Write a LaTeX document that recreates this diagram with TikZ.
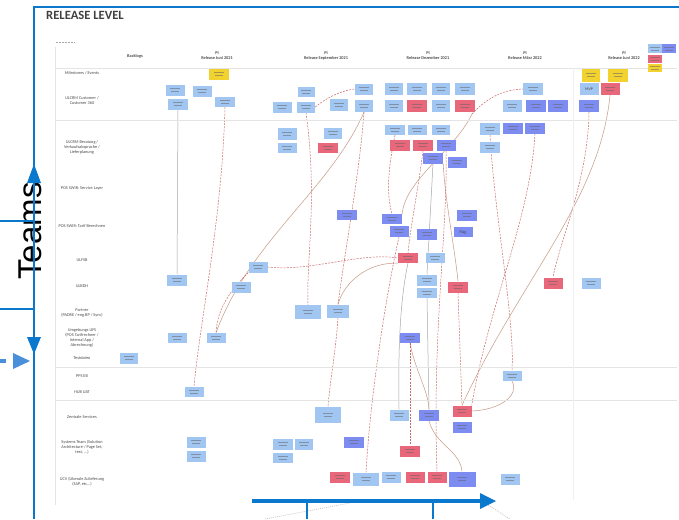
\documentclass[tikz,border=0pt]{standalone}
\usepackage{fontspec}
\setmainfont{Carlito}
\newfontfamily\arialf{Liberation Sans}
\usetikzlibrary{calc}
\definecolor{frameblue}{HTML}{0A78CC}
\definecolor{dashblue}{HTML}{4A8FD9}
\definecolor{nlb}{HTML}{A2C6F2}
\definecolor{nmb}{HTML}{7D8CF0}
\definecolor{nred}{HTML}{E8677A}
\definecolor{nyel}{HTML}{F2D22E}
\definecolor{depc}{HTML}{C0504D}
\definecolor{depb}{HTML}{C9A08C}
\definecolor{gridc}{HTML}{E4E4E4}
\pgfdeclarelayer{bg}
\pgfsetlayers{bg,main}
\tikzset{
  sz/.style 2 args={minimum width=#1pt,minimum height=#2pt},
  plain/.style={inner sep=0pt,draw=none,font=\fontsize{4}{4.5}\selectfont,text=black!75},
  note/.style={plain,sz={19}{11},
    path picture={\draw[black!60,line width=0.5pt,opacity=.55]
      ([xshift=-5pt,yshift=1.5pt]path picture bounding box.center) -- ++(10pt,0)
      ([xshift=-4pt,yshift=-1.5pt]path picture bounding box.center) -- ++(8pt,0);}},
  lb/.style={note,fill=nlb},
  mb/.style={note,fill=nmb},
  rd/.style={note,fill=nred},
  yl/.style={note,fill=nyel},
  lbl/.style={inner sep=0pt,align=center,font=\fontsize{4.3}{5}\selectfont,text=black!70},
  hdr/.style={inner sep=0pt,align=center,font=\bfseries\fontsize{4.3}{5.2}\selectfont,text=black!70},
  dd/.style={draw=depc,line width=0.5pt,dash pattern=on 2pt off 1.2pt,opacity=.85},
  ds/.style={draw=depb,line width=0.55pt},
  gs/.style={draw=black!35,line width=0.5pt},
  gridline/.style={draw=gridc,line width=0.8pt}
}
\begin{document}
\begin{tikzpicture}[x=1pt,y=-1pt]
\useasboundingbox (0,0) rectangle (679,519);

% board grid
\draw[gridline] (55,47) -- (55,505);
\draw[gridline] (55,68) -- (677,68);
\draw[gridline] (55,120) -- (677,120);
\draw[gridline] (55,367) -- (677,367);
\draw[gridline] (55,400) -- (677,400);
\draw[draw=gridc!60,line width=0.5pt] (573,68) -- (573,500);
\draw[black!35,line width=0.7pt,dash pattern=on 1.5pt off 1.5pt] (56,42) -- (75,42);

% title
\node[anchor=west,inner sep=0pt,font=\bfseries\fontsize{12.6}{13}\selectfont,text=black!75] (title) at (46,15) {RELEASE LEVEL};

% headers
\node[hdr] (hb) at (135,56) {Backlogs};
\node[hdr] (h1) at (217,56) {PI\\Release Juni 2021};
\node[hdr] (h2) at (326,56) {PI\\Release September 2021};
\node[hdr] (h3) at (428,56) {PI\\Release Dezember 2021};
\node[hdr] (h4) at (525,56) {PI\\Release März 2022};
\node[hdr] (h5) at (624,56) {PI\\Release Juni 2022};

% legend
\node[lb,sz={14}{9}] (lg1) at (655,49) {};
\node[mb,sz={14}{9}] (lg2) at (669,49) {};
\node[rd,sz={14}{8}] (lg3) at (655,59) {};
\node[yl,sz={14}{8}] (lg4) at (655,68) {};

% row labels
\node[lbl] (r1) at (82,73) {Milestones / Events};
\node[lbl] (r2) at (82,101) {ULCRM Customer /\\Customer 360};
\node[lbl] (r3) at (82,147) {ULCRM Beratung /\\Verkaufsabsprache /\\Lieferplanung};
\node[lbl] (r4) at (82,188) {POS SWIR: Service Layer};
\node[lbl] (r5) at (82,226) {POS SWIR: Tarif Berechnen};
\node[lbl] (r6) at (82,260) {ULFSB};
\node[lbl] (r7) at (82,286) {ULBDH};
\node[lbl] (r8) at (82,313) {Partner\\(PADRE / eng.BP / Sync)};
\node[lbl] (r9) at (82,338) {Umgebungs UFS\\(POS Tarifrechner /\\Internal App /\\Abrechnung)};
\node[lbl] (r10) at (82,358) {Testdaten};
\node[lbl] (r11) at (82,376) {PPS EB};
\node[lbl] (r12) at (82,392) {HUB UAT};
\node[lbl] (r13) at (82,417) {Zentrale Services};
\node[lbl] (r14) at (82,447) {Systems Team (Solution\\Architecture / Page Set,\\test, ...)};
\node[lbl] (r15) at (82,482) {UCV (Liberale Zulieferung\\(SAP, etc...)};

% milestones
\node[yl,sz={20}{11}] (m1) at (219,74) {};
\node[yl,sz={18}{13}] (m2) at (591,75) {};
\node[yl,sz={20}{13}] (m3) at (618,75) {};

% ULCRM customer
\node[lb] (c1) at (175,90) {};
\node[lb] (c2) at (202,91) {};
\node[lb,sz={20}{11}] (c3) at (178,104) {};
\node[lb,sz={20}{10}] (c4) at (225,102) {};
\node[lb] (c5) at (282,107) {};
\node[lb,sz={18}{11}] (c6) at (306,107) {};
\node[lb,sz={17}{10}] (c7) at (306,92) {};
\node[lb,sz={18}{12}] (c8) at (339,105) {};
\node[lb,sz={18}{11}] (c9) at (364,89) {};
\node[lb,sz={18}{12}] (c10) at (364,106) {};
\node[lb,sz={18}{12}] (c11) at (394,89) {};
\node[lb,sz={18}{12}] (c12) at (394,106) {};
\node[lb,sz={20}{12}] (c13) at (417,89) {};
\node[rd,sz={20}{12}] (c14) at (417,106) {};
\node[lb,sz={18}{12}] (c15) at (441,89) {};
\node[lb,sz={18}{12}] (c16) at (441,106) {};
\node[lb,sz={20}{12}] (c17) at (465,89) {};
\node[rd,sz={20}{12}] (c18) at (465,106) {};
\node[lb,sz={19}{12}] (c19) at (512,106) {};
\node[lb,sz={20}{12}] (c20) at (533,89) {};
\node[mb,sz={20}{12}] (c21) at (536,106) {};
\node[mb,sz={20}{12}] (c22) at (558,106) {};
\node[plain,fill=nlb,sz={19}{12}] (c23) at (589,89) {MVP};
\node[rd,sz={19}{12}] (c24) at (610,89) {};
\node[mb,sz={20}{12}] (c25) at (589,106) {};

% ULCRM Beratung
\node[lb,sz={19}{12}] (b1) at (287,134) {};
\node[lb,sz={19}{10}] (b2) at (287,148) {};
\node[lb,sz={18}{11}] (b3) at (333,133) {};
\node[rd,sz={20}{10}] (b4) at (328,148) {};
\node[lb,sz={20}{10}] (b5) at (395,130) {};
\node[lb,sz={19}{10}] (b6) at (417,130) {};
\node[lb,sz={18}{10}] (b7) at (441,130) {};
\node[lb,sz={20}{12}] (b8) at (490,129) {};
\node[mb,sz={20}{11}] (b9) at (513,128) {};
\node[mb,sz={20}{11}] (b10) at (535,128) {};
\node[rd,sz={20}{11}] (b11) at (400,145) {};
\node[rd,sz={20}{11}] (b12) at (423,145) {};
\node[mb,sz={19}{11}] (b13) at (446,145) {};
\node[mb,sz={20}{11}] (b14) at (433,158) {};
\node[mb,sz={19}{11}] (b15) at (457,162) {};
\node[lb,sz={20}{11}] (b16) at (490,147) {};

% POS SWIR Tarif
\node[mb,sz={20}{10}] (t1) at (347,215) {};
\node[mb,sz={20}{10}] (t2) at (392,219) {};
\node[mb,sz={19}{11}] (t3) at (399,231) {};
\node[mb,sz={20}{11}] (t4) at (427,234) {};
\node[mb,sz={20}{11}] (t5) at (467,215) {};
\node[plain,fill=nmb,sz={19}{10}] (t6) at (463,232) {Flag};

% ULFSB
\node[lb] (f1) at (258,267) {};
\node[rd,sz={20}{10}] (f2) at (408,258) {};
\node[lb,sz={19}{10}] (f3) at (435,258) {};

% ULBDH
\node[lb,sz={20}{11}] (hh1) at (177,280) {};
\node[lb] (hh2) at (241,287) {};
\node[lb,sz={20}{11}] (hh3) at (427,280) {};
\node[lb,sz={20}{10}] (hh4) at (427,293) {};
\node[rd,sz={20}{11}] (hh5) at (458,287) {};
\node[rd] (hh6) at (553,283) {};
\node[lb] (hh7) at (591,283) {};

% Partner
\node[lb,sz={26}{14}] (p1) at (308,312) {};
\node[lb,sz={22}{13}] (p2) at (338,311) {};

% Umgebungs
\node[lb,sz={19}{10}] (u1) at (177,338) {};
\node[lb,sz={19}{10}] (u2) at (216,338) {};
\node[mb,sz={20}{10}] (u3) at (410,338) {};

% Testdaten, PPS EB, HUB UAT
\node[lb,sz={18}{11}] (d1) at (129,358) {};
\node[lb,sz={19}{10}] (e1) at (512,376) {};
\node[lb,sz={19}{10}] (a1) at (194,392) {};

% Zentrale Services
\node[lb,sz={26}{16}] (z1) at (328,415) {};
\node[lb] (z2) at (399,415) {};
\node[mb,sz={20}{11}] (z3) at (429,415) {};
\node[rd] (z4) at (462,411) {};
\node[mb] (z5) at (462,427) {};

% Systems Team
\node[lb] (s1) at (196,442) {};
\node[lb] (s2) at (196,456) {};
\node[lb,sz={20}{11}] (s3) at (283,444) {};
\node[lb,sz={18}{11}] (s4) at (304,444) {};
\node[lb,sz={20}{10}] (s5) at (283,458) {};
\node[mb,sz={20}{11}] (s6) at (354,442) {};
\node[rd,sz={20}{11}] (s7) at (410,451) {};

% UCV
\node[rd,sz={20}{11}] (v1) at (340,477) {};
\node[lb,sz={26}{13}] (v2) at (366,479) {};
\node[lb] (v3) at (391,477) {};
\node[rd] (v4) at (415,477) {};
\node[rd] (v5) at (437,477) {};
\node[mb,sz={27}{15}] (v6) at (462,479) {};
\node[lb] (v7) at (510,479) {};

\coordinate (k1) at (472,114);

\begin{pgfonlayer}{bg}
\fill[white] (0,0) rectangle (679,519);
\draw[dd] (c4.south) .. controls (222,220) and (200,320) .. (a1.north);
\draw[gs] (c3.south) -- (hh1.north);
\draw[dd] (c6.south) .. controls (318,200) and (306,260) .. (p1.north);
\draw[dd] (c6.east) .. controls (330,95) and (345,90) .. (c9.west);
\draw[dd] (f1.east) .. controls (310,272) and (360,252) .. (f2.west);
\draw[ds] (p2.north) .. controls (345,280) and (370,262) .. (f2.south west);
\draw[ds] (u2.north) .. controls (250,240) and (330,190) .. (c10.south);
\draw[dd] (c10.south) .. controls (360,170) and (345,250) .. (p2.north);
\draw[dd] (b5.south) .. controls (390,160) and (385,190) .. (t2.north);
\draw[dd] (b12.south) .. controls (418,190) and (410,230) .. (f2.north);
\draw[dd] (t3.south) .. controls (385,300) and (370,400) .. (v2.north);
\draw[gs] (b14.south) -- (hh3.north);
\draw[gs] (hh4.south) -- (z3.north);
\draw[ds] (b14.south east) .. controls (445,200) and (455,250) .. (hh5.north);
\draw[dd] (hh5.south) -- (z4.north);
\draw[dd] (b8.south) .. controls (495,220) and (515,320) .. (e1.north);
\draw[ds] (e1.south) .. controls (520,395) and (500,410) .. (z4.east);
\draw[dd] (b10.south) .. controls (530,220) and (490,300) .. (z4.north east);
\draw[dd] (c25.south) .. controls (588,180) and (560,240) .. (hh6.north);
\draw[ds] (c24.south) .. controls (600,200) and (520,280) .. (z4.north);
\draw[ds] (t2.north east) .. controls (405,180) and (455,150) .. (k1);
\draw[dd] (k1) .. controls (490,95) and (505,90) .. (c20.west);
\draw[ds] (u3.south) .. controls (415,370) and (428,390) .. (z3.north);
\draw[ds] (z3.south) .. controls (435,445) and (460,450) .. (v6.north);
\draw[gs] (f2.south) .. controls (400,300) and (398,350) .. (z2.north);
\draw[dd] (u3.south) -- (s7.north);
\draw[dd] (b13.south) .. controls (448,230) and (432,330) .. (v5.north);
\draw[dd] (f1.south west) .. controls (230,290) and (217,310) .. (u2.north);
\draw[dd] (p2.south) .. controls (336,350) and (330,380) .. (z1.north);
\draw[black!25,line width=0.6pt,dash pattern=on 1pt off 1pt] (265,519) -- (350,503);
\draw[black!25,line width=0.6pt,dash pattern=on 1pt off 1pt] (485,503) -- (510,519);
\end{pgfonlayer}

% blue annotations
\coordinate (fb) at (34,519);
\coordinate (fc) at (34,7);
\coordinate (fr) at (679,7);
\node[font=\arialf\fontsize{33}{33}\selectfont,rotate=90,inner sep=0pt] (teams) at (30,231) {Teams};
\draw[frameblue,line width=2.4pt] (fb) -- (fc) -- (fr);
\coordinate (up) at (34,164);
\coordinate (dn) at (34,354);
\fill[frameblue] (up) -- (27,183) -- (41,183) -- cycle;
\fill[frameblue] (dn) -- (27,337) -- (41,337) -- cycle;
\coordinate (hl1) at (0,221);
\coordinate (hl1e) at (34,221);
\coordinate (hl2) at (0,309);
\coordinate (hl2e) at (34,309);
\draw[frameblue,line width=1.6pt] (hl1) -- (hl1e);
\draw[frameblue,line width=1.6pt] (hl2) -- (hl2e);
\coordinate (da0) at (0,361);
\coordinate (da1) at (6,361);
\coordinate (dat) at (30,361);
\draw[dashblue,line width=3.5pt] (da0) -- (da1);
\fill[dashblue] (dat) -- (13,353) -- (13,369) -- cycle;
\coordinate (ba0) at (252,501);
\coordinate (ba1) at (482,501);
\coordinate (bat) at (496,501);
\draw[frameblue,line width=3.2pt] (ba0) -- (ba1);
\fill[frameblue] (bat) -- (480,493) -- (480,509) -- cycle;
\coordinate (tk1) at (307,501);
\coordinate (tk1e) at (307,519);
\coordinate (tk2) at (433,501);
\coordinate (tk2e) at (433,519);
\draw[frameblue,line width=2pt] (tk1) -- (tk1e);
\draw[frameblue,line width=2pt] (tk2) -- (tk2e);
\end{tikzpicture}
\end{document}
